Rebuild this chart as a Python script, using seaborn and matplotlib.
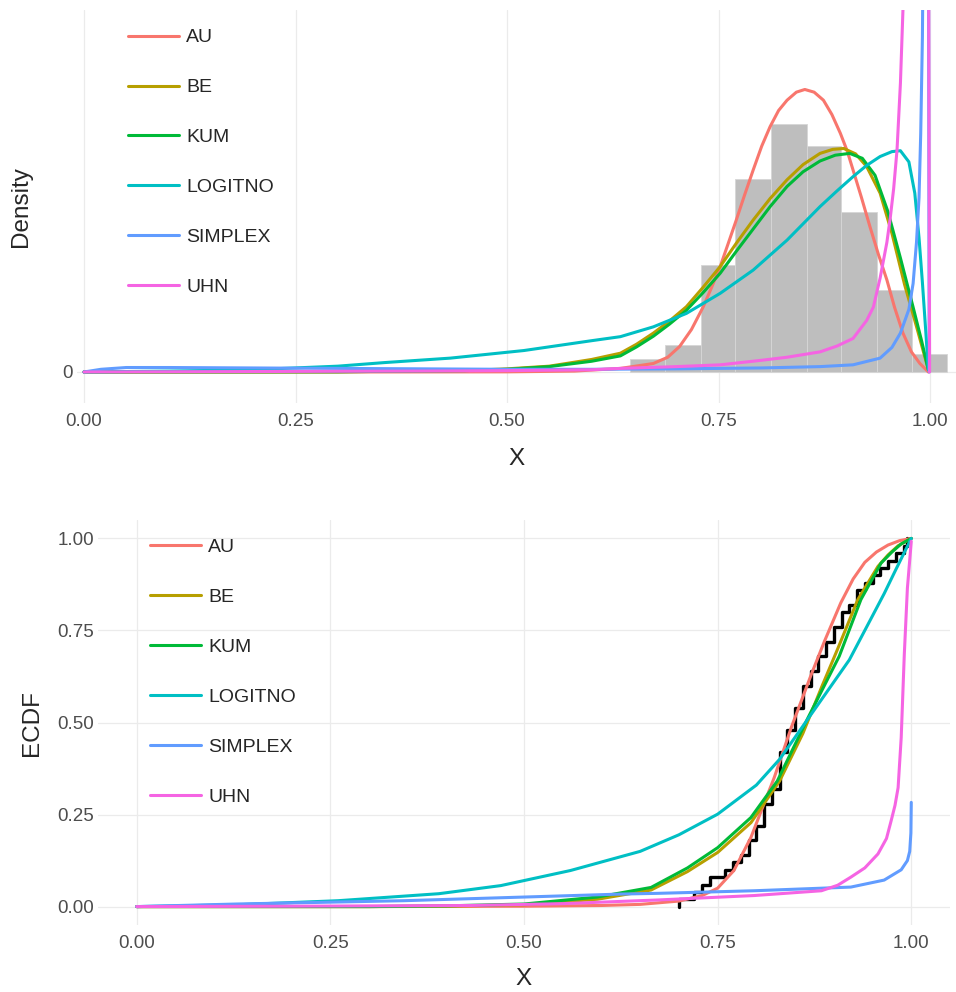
import numpy as np
import pandas as pd
import seaborn as sns
import matplotlib.pyplot as plt
from matplotlib.lines import Line2D

models = ["AU", "BE", "KUM", "LOGITNO", "SIMPLEX", "UHN"]
colors = ["#F8766D", "#B79F00", "#00BA38", "#00BFC4", "#619CFF", "#F564E3"]

# histogram (density scale)
hist_edges = [0.645, 0.687, 0.729, 0.770, 0.812, 0.854, 0.895, 0.937, 0.979, 1.020]
hist_density = [0.28, 0.61, 2.39, 4.31, 5.54, 5.06, 3.57, 1.83, 0.40]

# fitted densities (top panel)
au_x = [0.0, 0.3, 0.5, 0.58, 0.634, 0.673, 0.69, 0.704, 0.718, 0.732, 0.742, 0.752,
        0.761, 0.771, 0.781, 0.791, 0.801, 0.811, 0.821, 0.831, 0.842, 0.852, 0.863,
        0.874, 0.884, 0.894, 0.902, 0.909, 0.919, 0.929, 0.939, 0.949, 0.958, 0.968,
        0.978, 0.988, 0.998]
au_y = [0.0, 0.0, 0.003, 0.02, 0.08, 0.19, 0.33, 0.57, 0.95, 1.46, 1.90, 2.36,
        2.85, 3.40, 3.97, 4.52, 5.05, 5.49, 5.85, 6.08, 6.26, 6.32, 6.26,
        6.08, 5.76, 5.34, 4.95, 4.52, 3.90, 3.25, 2.63, 2.06, 1.45, 0.87,
        0.45, 0.19, 0.0]

be_x = [0.0, 0.3, 0.45, 0.5, 0.55, 0.6, 0.634, 0.653, 0.673, 0.692, 0.712, 0.732,
        0.752, 0.771, 0.791, 0.811, 0.831, 0.850, 0.870, 0.885, 0.898, 0.912, 0.925,
        0.941, 0.955, 0.970, 0.985, 0.998]
be_y = [0.0, 0.005, 0.03, 0.07, 0.13, 0.28, 0.42, 0.62, 0.87, 1.14, 1.46, 1.90,
        2.36, 2.88, 3.40, 3.88, 4.30, 4.64, 4.89, 4.98, 5.0, 4.88, 4.60,
        4.0, 3.1, 1.95, 0.95, 0.05]

kum_x = [0.0, 0.3, 0.45, 0.5, 0.55, 0.6, 0.634, 0.653, 0.673, 0.692, 0.712, 0.732,
         0.752, 0.771, 0.791, 0.811, 0.831, 0.850, 0.870, 0.888, 0.905, 0.920, 0.935,
         0.950, 0.965, 0.980, 0.990, 0.998]
kum_y = [0.0, 0.005, 0.03, 0.06, 0.12, 0.24, 0.36, 0.56, 0.80, 1.07, 1.38, 1.78,
         2.21, 2.70, 3.20, 3.70, 4.15, 4.48, 4.72, 4.85, 4.89, 4.78, 4.40,
         3.60, 2.55, 1.45, 0.70, 0.05]

logitno_x = [0.0, 0.05, 0.1, 0.2, 0.236, 0.3, 0.355, 0.433, 0.52, 0.6, 0.634, 0.673,
             0.712, 0.752, 0.791, 0.831, 0.870, 0.890, 0.909, 0.925, 0.941, 0.955,
             0.965, 0.975, 0.982, 0.987, 0.991, 0.995, 0.998]
logitno_y = [0.0, 0.01, 0.02, 0.05, 0.08, 0.13, 0.21, 0.31, 0.48, 0.70, 0.79, 1.01,
             1.31, 1.76, 2.28, 2.95, 3.70, 4.05, 4.37, 4.62, 4.82, 4.93,
             4.95, 4.70, 4.0, 3.0, 2.0, 0.9, 0.05]

simplex_x = [0.0, 0.02, 0.05, 0.1, 0.2, 0.3, 0.4, 0.5, 0.6, 0.7, 0.8, 0.87, 0.909,
             0.941, 0.955, 0.965, 0.975, 0.980, 0.984, 0.987, 0.989, 0.991, 0.993,
             0.998, 0.999]
simplex_y = [0.0, 0.06, 0.10, 0.10, 0.09, 0.08, 0.07, 0.06, 0.06, 0.07, 0.09, 0.12, 0.16,
             0.31, 0.55, 0.87, 1.40, 1.98, 2.90, 3.90, 5.34, 7.50, 12.0,
             12.0, 0.0]

uhn_x = [0.0, 0.2, 0.4, 0.5, 0.6, 0.634, 0.7, 0.752, 0.8, 0.831, 0.870, 0.89, 0.909,
         0.925, 0.933, 0.941, 0.949, 0.953, 0.957, 0.961, 0.965, 0.968, 0.972,
         0.998, 0.9995]
uhn_y = [0.0, 0.01, 0.02, 0.03, 0.05, 0.08, 0.12, 0.16, 0.26, 0.33, 0.45, 0.58, 0.75,
         1.15, 1.45, 2.1, 2.9, 3.45, 4.1, 4.97, 6.46, 8.1, 12.0,
         12.0, 0.0]

# observed sample for the ECDF (bottom panel)
ecdf_sample = [0.70, 0.72, 0.73, 0.74, 0.76, 0.77, 0.78, 0.79, 0.79, 0.80, 0.80,
               0.81, 0.81, 0.81, 0.82, 0.82, 0.83, 0.83, 0.83, 0.83, 0.83,
               0.84, 0.84, 0.84, 0.85, 0.85, 0.85, 0.86, 0.86, 0.86, 0.87, 0.87,
               0.88, 0.88, 0.89, 0.89, 0.90, 0.90, 0.91, 0.91, 0.92, 0.93, 0.93,
               0.94, 0.95, 0.96, 0.97, 0.98, 0.99, 0.995]

# fitted CDFs (bottom panel)
au_cx = [0.0, 0.3, 0.5, 0.6, 0.65, 0.7, 0.73, 0.75, 0.771, 0.793, 0.81, 0.823, 0.845,
         0.871, 0.888, 0.909, 0.925, 0.94, 0.955, 0.97, 0.985, 1.0]
au_cy = [0.0, 0.0, 0.001, 0.003, 0.006, 0.015, 0.03, 0.05, 0.098, 0.188, 0.28, 0.35,
         0.486, 0.631, 0.721, 0.825, 0.89, 0.935, 0.963, 0.982, 0.994, 1.0]

be_cx = [0.0, 0.3, 0.4, 0.5, 0.595, 0.664, 0.711, 0.75, 0.793, 0.83, 0.86, 0.885,
         0.905, 0.931, 0.957, 0.97, 0.983, 1.0]
be_cy = [0.0, 0.0, 0.001, 0.005, 0.02, 0.045, 0.095, 0.147, 0.228, 0.341, 0.47, 0.60,
         0.70, 0.834, 0.924, 0.955, 0.98, 1.0]

kum_cx = [0.0, 0.3, 0.4, 0.5, 0.595, 0.664, 0.711, 0.75, 0.793, 0.827, 0.866, 0.907,
          0.935, 0.961, 0.975, 0.987, 1.0]
kum_cy = [0.0, 0.0, 0.002, 0.007, 0.026, 0.052, 0.105, 0.16, 0.242, 0.341, 0.51, 0.68,
          0.834, 0.933, 0.963, 0.985, 1.0]

logitno_cx = [0.0, 0.13, 0.26, 0.39, 0.47, 0.56, 0.65, 0.70, 0.75, 0.80, 0.83, 0.86,
              0.89, 0.905, 0.92, 0.935, 0.95, 0.965, 0.98, 1.0]
logitno_cy = [0.0, 0.005, 0.016, 0.035, 0.057, 0.098, 0.15, 0.195, 0.251, 0.33, 0.40,
              0.49, 0.58, 0.625, 0.67, 0.73, 0.79, 0.85, 0.915, 1.0]

simplex_cx = [0.0, 0.129, 0.345, 0.517, 0.625, 0.673, 0.797, 0.922, 0.965, 0.987,
              0.995, 0.998, 0.9995, 1.0]
simplex_cy = [0.0, 0.007, 0.016, 0.027, 0.034, 0.036, 0.043, 0.053, 0.072, 0.10,
              0.125, 0.15, 0.20, 0.283]

uhn_cx = [0.0, 0.2, 0.431, 0.55, 0.673, 0.797, 0.884, 0.905, 0.922, 0.94, 0.957, 0.968,
          0.974, 0.979, 0.983, 0.987, 0.991, 0.995, 1.0]
uhn_cy = [0.0, 0.001, 0.003, 0.008, 0.018, 0.03, 0.043, 0.058, 0.08, 0.105, 0.143, 0.185,
          0.233, 0.275, 0.323, 0.459, 0.685, 0.865, 0.992]

dens_curves = {"AU": (au_x, au_y), "BE": (be_x, be_y), "KUM": (kum_x, kum_y),
               "LOGITNO": (logitno_x, logitno_y), "SIMPLEX": (simplex_x, simplex_y),
               "UHN": (uhn_x, uhn_y)}
cdf_curves = {"AU": (au_cx, au_cy), "BE": (be_cx, be_cy), "KUM": (kum_cx, kum_cy),
              "LOGITNO": (logitno_cx, logitno_cy), "SIMPLEX": (simplex_cx, simplex_cy),
              "UHN": (uhn_cx, uhn_cy)}


def to_long(curves):
    parts = []
    for m in models:
        xs, ys = curves[m]
        parts.append(pd.DataFrame({"x": xs, "y": ys, "model": m}))
    return pd.concat(parts, ignore_index=True)


dens_df = to_long(dens_curves)
cdf_df = to_long(cdf_curves)

sns.set_theme(style="white")
plt.rcParams["font.family"] = ["Liberation Sans", "DejaVu Sans"]

tick_color = "#4D4D4D"
grid_color = "#EBEBEB"
tick_size = 13.5
title_size = 17.5
legend_size = 14

fig = plt.figure(figsize=(9.56, 9.92), dpi=100)
ax1 = fig.add_axes([77 / 956, 1 - 403 / 992, (956 - 77) / 956, 393 / 992])
ax2 = fig.add_axes([98 / 956, 1 - 925 / 992, (950 - 98) / 956, 405 / 992])

# top: histogram + densities
centers = [(a + b) / 2 for a, b in zip(hist_edges[:-1], hist_edges[1:])]
sns.histplot(x=centers, weights=hist_density, bins=hist_edges, stat="count",
             color="#BEBEBE", alpha=1, edgecolor="#D6D6D6", linewidth=0.6, ax=ax1)
sns.lineplot(data=dens_df, x="x", y="y", hue="model", hue_order=models,
             palette=colors, estimator=None, sort=False, linewidth=2.2,
             legend=False, ax=ax1)

ax1.set_xlim(-0.0083, 1.0307)
ax1.set_ylim(-0.694, 8.098)
ax1.set_xticks([0, 0.25, 0.5, 0.75, 1.0])
ax1.set_xticklabels(["0.00", "0.25", "0.50", "0.75", "1.00"])
ax1.set_yticks([0])
ax1.set_yticklabels(["0"])
ax1.set_xlabel("X", fontsize=title_size, labelpad=13)
ax1.set_ylabel("Density", fontsize=title_size, labelpad=22)

# bottom: ECDF + fitted CDFs
sns.ecdfplot(x=ecdf_sample, color="black", linewidth=2.4, ax=ax2)
sns.lineplot(data=cdf_df, x="x", y="y", hue="model", hue_order=models,
             palette=colors, estimator=None, sort=False, linewidth=2.2,
             legend=False, ax=ax2)

ax2.set_xlim(-0.05, 1.05)
ax2.set_ylim(-0.05, 1.05)
ticks = [0, 0.25, 0.5, 0.75, 1.0]
tick_labels = ["0.00", "0.25", "0.50", "0.75", "1.00"]
ax2.set_xticks(ticks)
ax2.set_xticklabels(tick_labels)
ax2.set_yticks(ticks)
ax2.set_yticklabels(tick_labels)
ax2.set_xlabel("X", fontsize=title_size, labelpad=12)
ax2.set_ylabel("ECDF", fontsize=title_size, labelpad=10)

handles = [Line2D([], [], color=c, linewidth=2.2) for c in colors]
for ax, anchor in [(ax1, (0.058, 0.952)), (ax2, (0.061, 0.954))]:
    for s in ax.spines.values():
        s.set_visible(False)
    ax.grid(True, color=grid_color, linewidth=0.9)
    ax.set_axisbelow(True)
    ax.tick_params(axis="both", length=0, labelsize=tick_size, colors=tick_color)
    ax.tick_params(axis="x", pad=7)
    ax.tick_params(axis="y", pad=3)
    ax.legend(handles, models, loc="upper left", bbox_to_anchor=anchor,
              frameon=False, fontsize=legend_size, handlelength=2.6,
              handletextpad=0.4, labelspacing=1.66, borderpad=0, borderaxespad=0)

fig.savefig("out.png", dpi=100)
